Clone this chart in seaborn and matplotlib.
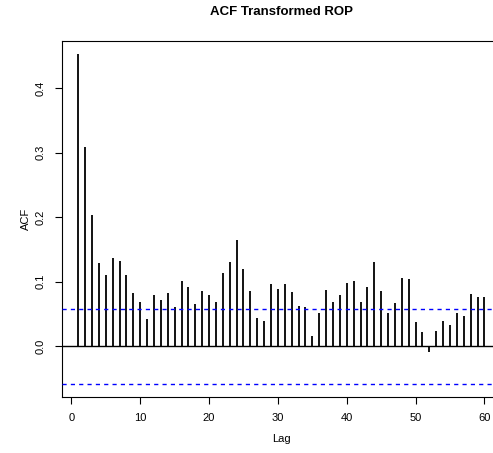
import numpy as np
import pandas as pd
import matplotlib
matplotlib.use("Agg")
import matplotlib.pyplot as plt
import seaborn as sns

lags = list(range(1, 61))
acf_values = [
    0.453, 0.309, 0.204, 0.129, 0.111, 0.137, 0.132, 0.111, 0.082, 0.069,
    0.042, 0.080, 0.071, 0.083, 0.061, 0.101, 0.092, 0.066, 0.086, 0.080,
    0.069, 0.114, 0.131, 0.165, 0.119, 0.086, 0.043, 0.039, 0.096, 0.089,
    0.097, 0.084, 0.062, 0.060, 0.015, 0.052, 0.087, 0.069, 0.080, 0.098,
    0.101, 0.068, 0.091, 0.130, 0.085, 0.051, 0.067, 0.106, 0.104, 0.037,
    0.022, -0.009, 0.023, 0.039, 0.033, 0.052, 0.046, 0.081, 0.077, 0.076,
]
ci_bound = 0.058
x_ticks = [0, 10, 20, 30, 40, 50, 60]
y_ticks = [0.0, 0.1, 0.2, 0.3, 0.4]

df = pd.DataFrame({"Lag": lags, "ACF": acf_values})

sns.set_style("ticks")
plt.rcParams["font.family"] = ["Liberation Sans", "DejaVu Sans"]
plt.rcParams["text.color"] = "black"
plt.rcParams["axes.labelcolor"] = "black"
plt.rcParams["xtick.color"] = "black"
plt.rcParams["ytick.color"] = "black"

fig = plt.figure(figsize=(4.93, 4.53), dpi=100)
ax = fig.add_axes([62 / 493, 1 - 396.7 / 453, (500.7 - 62) / 493, (396.7 - 41) / 453])

ax.vlines(df["Lag"], 0, df["ACF"], color="black", linewidth=1.3, zorder=2)
ax.axhline(0, color="black", linewidth=1.0, zorder=2)
for b in (ci_bound, -ci_bound):
    ax.axhline(b, color="#0000ff", linewidth=1.0, linestyle=(0, (3, 3)), zorder=3)

ymin = min(min(acf_values), -ci_bound)
ymax = max(max(acf_values), ci_bound)
yr = ymax - ymin
ax.set_ylim(ymin - 0.04 * yr, ymax + 0.04 * yr)
xr = max(lags) - min(lags)
ax.set_xlim(min(lags) - 0.04 * xr, max(lags) + 0.04 * xr)

ax.set_xticks(x_ticks)
ax.set_xticklabels([str(t) for t in x_ticks], fontsize=8)
ax.set_yticks(y_ticks)
ax.set_yticklabels([f"{t:.1f}" for t in y_ticks], fontsize=8, rotation=90, va="center")
ax.tick_params(axis="both", direction="out", length=5, width=0.8, color="black", pad=7)

for s in ax.spines.values():
    s.set_visible(True)
    s.set_color("black")
    s.set_linewidth(0.8)

ax.set_xlabel("Lag", fontsize=8, labelpad=8)
ax.set_ylabel("ACF", fontsize=8, labelpad=3)
ax.set_title("ACF Transformed ROP", fontsize=9.5, fontweight="bold", pad=19)

fig.savefig("out.png", dpi=100)
